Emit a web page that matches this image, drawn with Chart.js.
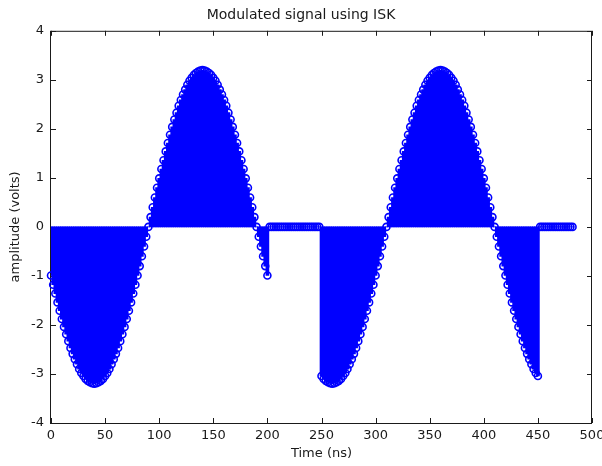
<!DOCTYPE html>
<html>
<head>
<meta charset="utf-8">
<script src="https://cdn.jsdelivr.net/npm/chart.js@4.4.1/dist/chart.umd.min.js"></script>
<style>
  html, body { margin: 0; padding: 0; background: #fff; }
  #wrap { width: 602px; height: 466px; }
</style>
</head>
<body>
<div id="wrap"><canvas id="chart" width="602" height="466"></canvas></div>
<script>
// sampling grid (ns) of the stem plot
const sampleStep = 2;

// first pulse, t = 0 .. 200 ns
const pulse1Start = 0;
const pulse1Values = [
  -0.99, -1.18, -1.36, -1.54, -1.71, -1.88, -2.04, -2.19, -2.33, -2.47, -2.59,
  -2.70, -2.80, -2.90, -2.98, -3.04, -3.10, -3.14, -3.17, -3.19, -3.20,
  -3.19, -3.17, -3.14, -3.10, -3.04, -2.98, -2.90, -2.80, -2.70, -2.59,
  -2.47, -2.33, -2.19, -2.04, -1.88, -1.71, -1.54, -1.36, -1.18, -0.99,
  -0.80, -0.60, -0.40, -0.20, 0,
  0.20, 0.40, 0.60, 0.80, 0.99, 1.18, 1.36, 1.54, 1.71, 1.88, 2.04, 2.19,
  2.33, 2.47, 2.59, 2.70, 2.80, 2.90, 2.98, 3.04, 3.10, 3.14, 3.17, 3.19, 3.20,
  3.19, 3.17, 3.14, 3.10, 3.04, 2.98, 2.90, 2.80, 2.70, 2.59, 2.47, 2.33,
  2.19, 2.04, 1.88, 1.71, 1.54, 1.36, 1.18, 0.99, 0.80, 0.60, 0.40, 0.20, 0,
  -0.20, -0.40, -0.60, -0.80, -0.99
];

// silence between the pulses, t = 202 .. 248 ns
const gapStart = 202;
const gapValues = [
  0, 0, 0, 0, 0, 0, 0, 0, 0, 0, 0, 0,
  0, 0, 0, 0, 0, 0, 0, 0, 0, 0, 0, 0
];

// second pulse, t = 250 .. 450 ns
const pulse2Start = 250;
const pulse2Values = [
  -3.04, -3.10, -3.14, -3.17, -3.19, -3.20,
  -3.19, -3.17, -3.14, -3.10, -3.04, -2.98, -2.90, -2.80, -2.70, -2.59,
  -2.47, -2.33, -2.19, -2.04, -1.88, -1.71, -1.54, -1.36, -1.18, -0.99,
  -0.80, -0.60, -0.40, -0.20, 0,
  0.20, 0.40, 0.60, 0.80, 0.99, 1.18, 1.36, 1.54, 1.71, 1.88, 2.04, 2.19,
  2.33, 2.47, 2.59, 2.70, 2.80, 2.90, 2.98, 3.04, 3.10, 3.14, 3.17, 3.19, 3.20,
  3.19, 3.17, 3.14, 3.10, 3.04, 2.98, 2.90, 2.80, 2.70, 2.59, 2.47, 2.33,
  2.19, 2.04, 1.88, 1.71, 1.54, 1.36, 1.18, 0.99, 0.80, 0.60, 0.40, 0.20, 0,
  -0.20, -0.40, -0.60, -0.80, -0.99, -1.18, -1.36, -1.54, -1.71, -1.88,
  -2.04, -2.19, -2.33, -2.47, -2.59, -2.70, -2.80, -2.90, -2.98, -3.04
];

// trailing zeros, t = 452 .. 482 ns
const tailStart = 452;
const tailValues = [0, 0, 0, 0, 0, 0, 0, 0, 0, 0, 0, 0, 0, 0, 0, 0];

const xTicks = [0, 50, 100, 150, 200, 250, 300, 350, 400, 450, 500];
const yTicks = [-4, -3, -2, -1, 0, 1, 2, 3, 4];

const segments = [
  { start: pulse1Start, values: pulse1Values },
  { start: gapStart, values: gapValues },
  { start: pulse2Start, values: pulse2Values },
  { start: tailStart, values: tailValues }
];

const points = [];
segments.forEach(seg => {
  seg.values.forEach((v, i) => {
    points.push({ x: seg.start + i * sampleStep, y: v });
  });
});

const blue = "#0000ff";
const ink = "#1a1a1a";
const font = "'DejaVu Sans', sans-serif";

// matlab style box with inward ticks on all four sides
const frame = {
  id: "frame",
  beforeDatasetsDraw(chart) {
    const { ctx, chartArea: a, scales: { x, y } } = chart;
    const len = 5;
    ctx.save();
    ctx.strokeStyle = ink;
    ctx.lineWidth = 1;
    ctx.strokeRect(a.left - 0.5, a.top + 0.5, a.right - a.left, a.bottom - a.top);
    ctx.beginPath();
    xTicks.forEach(t => {
      const px = Math.round(x.getPixelForValue(t)) + 0.5;
      ctx.moveTo(px, a.bottom);
      ctx.lineTo(px, a.bottom - len);
      ctx.moveTo(px, a.top);
      ctx.lineTo(px, a.top + len);
    });
    yTicks.forEach(t => {
      const py = Math.round(y.getPixelForValue(t)) + 0.5;
      ctx.moveTo(a.left, py);
      ctx.lineTo(a.left + len, py);
      ctx.moveTo(a.right, py);
      ctx.lineTo(a.right - len, py);
    });
    ctx.stroke();
    ctx.restore();
  }
};

new Chart(document.getElementById("chart"), {
  type: "bar",
  data: {
    datasets: [
      {
        type: "scatter",
        data: points,
        showLine: false,
        pointRadius: 3.5,
        pointBorderWidth: 1.6,
        pointBorderColor: blue,
        pointBackgroundColor: "rgba(255,255,255,0)",
        clip: false,
        order: 1
      },
      {
        type: "bar",
        data: points,
        backgroundColor: blue,
        borderWidth: 0,
        barThickness: 3,
        order: 2
      }
    ]
  },
  options: {
    responsive: false,
    animation: false,
    devicePixelRatio: 1,
    layout: { padding: 0 },
    plugins: {
      legend: { display: false },
      tooltip: { enabled: false },
      title: {
        display: true,
        text: "Modulated signal using ISK",
        color: ink,
        font: { family: font, size: 14, weight: "normal" },
        padding: { top: 7, bottom: 7 }
      }
    },
    scales: {
      x: {
        type: "linear",
        min: 0,
        max: 500,
        offset: false,
        grid: { display: false, drawTicks: false },
        border: { display: false },
        ticks: {
          stepSize: 50,
          autoSkip: false,
          maxRotation: 0,
          padding: 5,
          color: ink,
          font: { family: font, size: 13 }
        },
        title: {
          display: true,
          text: "Time (ns)",
          color: ink,
          font: { family: font, size: 13 },
          padding: { top: 0, bottom: 5 }
        },
        afterFit(scale) {
          scale.height = 43;
          scale.paddingLeft = 0;
          scale.paddingRight = 10;
        }
      },
      y: {
        min: -4,
        max: 4,
        grid: { display: false, drawTicks: false },
        border: { display: false },
        ticks: {
          stepSize: 1,
          padding: 7,
          color: ink,
          font: { family: font, size: 13 }
        },
        title: {
          display: true,
          text: "amplitude (volts)",
          color: ink,
          font: { family: font, size: 13 },
          padding: { top: 8, bottom: 0 }
        },
        afterFit(scale) { scale.width = 51; }
      }
    }
  },
  plugins: [frame]
});
</script>
</body>
</html>
